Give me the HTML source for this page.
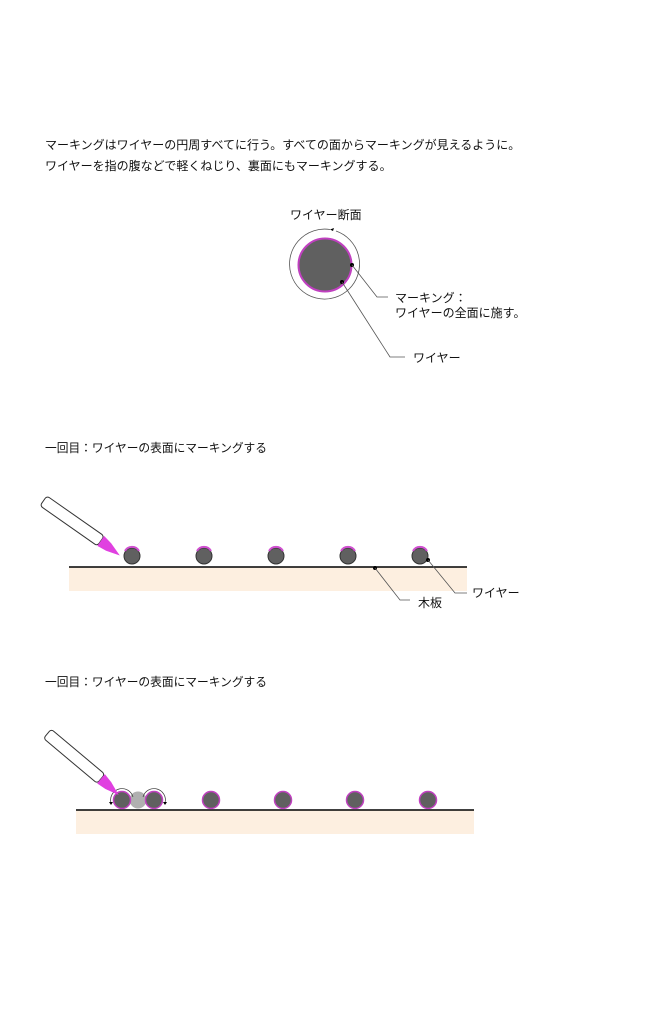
<!DOCTYPE html>
<html><head><meta charset="utf-8"><style>
html,body{margin:0;padding:0;background:#fff;width:658px;height:1024px;overflow:hidden}
svg{display:block}
text{font-family:"Liberation Sans","Noto Sans CJK JP",sans-serif;font-size:12px;fill:#111}
</style></head><body>
<svg width="658" height="1024" viewBox="0 0 658 1024">
<text x="45" y="149">マーキングはワイヤーの円周すべてに行う。すべての面からマーキングが見えるように。</text>
<text x="45" y="170">ワイヤーを指の腹などで軽くねじり、裏面にもマーキングする。</text>

<!-- cross-section -->
<text x="290" y="219">ワイヤー断面</text>
<path d="M336 231 A35 35 0 1 1 330 229.5" fill="none" stroke="#555" stroke-width="0.8"/>
<path d="M330 229.5 l4 -1.5 l-1 3z" fill="#000"/>
<circle cx="325" cy="265" r="26.5" fill="#606060" stroke="#c040c0" stroke-width="2"/>
<circle cx="352" cy="265" r="2" fill="#000"/>
<polyline points="352,265 377,297 388,297" fill="none" stroke="#555" stroke-width="0.8"/>
<circle cx="342" cy="282" r="2" fill="#000"/>
<polyline points="342,282 390,357 405,357" fill="none" stroke="#555" stroke-width="0.8"/>
<text x="395" y="302">マーキング：</text>
<text x="395" y="317">ワイヤーの全面に施す。</text>
<text x="413" y="362">ワイヤー</text>

<!-- row 1 -->
<text x="45" y="452" textLength="222" lengthAdjust="spacingAndGlyphs">一回目：ワイヤーの表面にマーキングする</text>
<rect x="69" y="567" width="398" height="24" fill="#fdefe0"/>
<line x1="69" y1="567" x2="467" y2="567" stroke="#000" stroke-width="1.5"/>
<g fill="#606060" stroke="#333" stroke-width="1">
<circle cx="132" cy="556" r="8"/><circle cx="204" cy="556" r="8"/><circle cx="276" cy="556" r="8"/><circle cx="348" cy="556" r="8"/><circle cx="420" cy="556" r="8"/>
</g>
<g fill="none" stroke="#d050d0" stroke-width="2">
<path d="M125 551 A8 8 0 0 1 139 551"/><path d="M197 551 A8 8 0 0 1 211 551"/><path d="M269 551 A8 8 0 0 1 283 551"/><path d="M341 551 A8 8 0 0 1 355 551"/><path d="M413 551 A8 8 0 0 1 427 551"/>
</g>
<g transform="translate(44,500) rotate(35)">
<rect x="0" y="-5" width="70" height="12" rx="3" fill="#fff" stroke="#333" stroke-width="1"/>
<path d="M70 -5 L80 -3 L94 2 L80 6 L70 7z" fill="#e040e0"/>
</g>
<circle cx="375" cy="568" r="2" fill="#000"/>
<polyline points="375,568 400,600 410,600" fill="none" stroke="#555" stroke-width="0.8"/>
<circle cx="428" cy="560" r="2" fill="#000"/>
<polyline points="428,560 455,593 467,593" fill="none" stroke="#555" stroke-width="0.8"/>
<text x="418" y="607">木板</text>
<text x="472" y="597">ワイヤー</text>

<!-- row 2 -->
<text x="45" y="686" textLength="222" lengthAdjust="spacingAndGlyphs">一回目：ワイヤーの表面にマーキングする</text>
<rect x="76" y="810" width="398" height="24" fill="#fdefe0"/>
<line x1="76" y1="810" x2="474" y2="810" stroke="#000" stroke-width="1.5"/>
<circle cx="138" cy="800" r="8.5" fill="#b0b0b0"/>
<g fill="#606060" stroke="#c040c0" stroke-width="1.5">
<circle cx="122" cy="800" r="8.5"/><circle cx="154" cy="800" r="8.5"/><circle cx="211" cy="800" r="8.5"/><circle cx="283" cy="800" r="8.5"/><circle cx="355" cy="800" r="8.5"/><circle cx="428" cy="800" r="8.5"/>
</g>
<g fill="none" stroke="#333" stroke-width="0.7">
<path d="M111 803 A11 11 0 0 1 133 797"/><path d="M143 797 A11 11 0 0 1 165 803"/>
</g>
<path d="M109 802 l4 0 l-2 3z M163 802 l4 0 l-2 3z" fill="#000"/>
<g transform="translate(48,733) rotate(40)">
<rect x="0" y="-5" width="70" height="12" rx="3" fill="#fff" stroke="#333" stroke-width="1"/>
<path d="M70 -5 L80 -3 L94 2 L80 6 L70 7z" fill="#e040e0"/>
</g>
</svg>
</body></html>
